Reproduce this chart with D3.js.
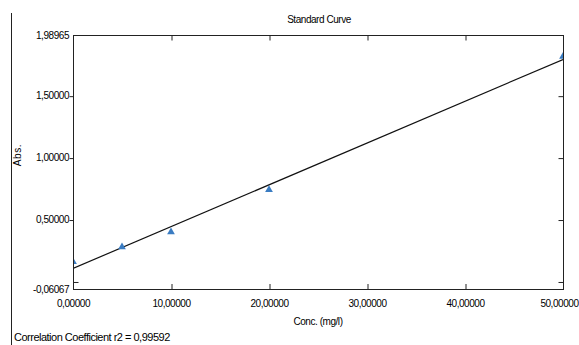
<!DOCTYPE html>
<html>
<head>
<meta charset="utf-8">
<script src="https://cdn.jsdelivr.net/npm/d3@7"></script>
<style>
  body { margin: 0; background: #fff; }
  svg text { font-family: "Liberation Sans", Arial, sans-serif; fill: #000; }
</style>
</head>
<body>
<div id="chart"></div>
<script>
// standard points
const conc = [0, 5, 10, 20, 50];
const absorb = [0.16, 0.278, 0.40, 0.74, 1.816];

const yLabelTicks = [1.98965, 1.5, 1.0, 0.5, -0.06067];
const yMarkTicks = [1.5, 1.0, 0.5];
const xLabelTicks = [0, 10, 20, 30, 40, 50];
const xInnerTicks = [10, 20, 30, 40];
const yInnerTicks = [0, 0.5, 1.0, 1.5];

const W = 579, H = 345;
const margin = {top: 35, right: 16, bottom: 56, left: 73};
const width = W - margin.left - margin.right;
const height = H - margin.top - margin.bottom;

const fmt = (d) => d3.format('.5f')(d).replace('.', ',').replace('−', '-');

const svg = d3.select('#chart').append('svg')
    .attr('width', W)
    .attr('height', H);

svg.append('rect').attr('width', W).attr('height', H).attr('fill', '#fff');

// left border line of the report panel
svg.append('line')
    .attr('x1', 11.5).attr('x2', 11.5)
    .attr('y1', 13).attr('y2', H)
    .attr('stroke', '#222').attr('stroke-width', 1);

const g = svg.append('g')
    .attr('transform', `translate(${margin.left}, ${margin.top})`);

const x = d3.scaleLinear().domain([0, 50]).range([0, width]);
const y = d3.scaleLinear().domain([-0.06067, 1.98965]).range([height, 0]);

// least squares line
const mx = d3.mean(conc), my = d3.mean(absorb);
const sxy = d3.sum(conc, (c, i) => (c - mx) * (absorb[i] - my));
const sxx = d3.sum(conc, (c) => (c - mx) * (c - mx));
const slope = sxy / sxx;
const icpt = my - slope * mx;

g.append('clipPath').attr('id', 'clip')
    .append('rect').attr('width', width).attr('height', height);

const plot = g.append('g').attr('clip-path', 'url(#clip)');

plot.append('path')
    .datum([0, 50])
    .attr('fill', 'none')
    .attr('stroke', '#111')
    .attr('stroke-width', 1.2)
    .attr('d', d3.line().x((d) => x(d)).y((d) => y(icpt + slope * d)));

plot.selectAll('.pt')
    .data(conc)
    .enter().append('path')
    .attr('class', 'pt')
    .attr('transform', (d, i) => `translate(${x(d)},${y(absorb[i])})`)
    .attr('d', d3.symbol().type(d3.symbolTriangle).size(26))
    .attr('fill', '#3a7cc2');

// frame
g.append('rect')
    .attr('x', 0.5).attr('y', 0.5)
    .attr('width', width).attr('height', height)
    .attr('fill', 'none').attr('stroke', '#222');

function clean(sel) {
    sel.select('.domain').remove();
    sel.selectAll('line').attr('stroke', '#222');
    sel.selectAll('text').attr('font-size', 10).attr('letter-spacing', '-0.45px');
}

// x labels
const xLab = g.append('g')
    .attr('transform', `translate(0, ${height})`)
    .call(d3.axisBottom(x).tickValues(xLabelTicks).tickSize(0).tickPadding(11).tickFormat(fmt))
    .call(clean);
// last label sits at the window edge, keep it inside
xLab.selectAll('text').filter((d) => d === 50)
    .attr('text-anchor', 'end')
    .attr('x', W - margin.left - width - 1 + 0);

// x inner ticks, bottom and top
g.append('g')
    .attr('transform', `translate(0.5, ${height})`)
    .call(d3.axisBottom(x).tickValues(xInnerTicks).tickSize(-5).tickFormat(''))
    .call(clean);
g.append('g')
    .attr('transform', 'translate(0.5, 0.5)')
    .call(d3.axisTop(x).tickValues(xInnerTicks).tickSize(-5).tickFormat(''))
    .call(clean);

// y labels
g.append('g')
    .call(d3.axisLeft(y).tickValues(yLabelTicks).tickSize(0).tickPadding(4).tickFormat(fmt))
    .call(clean);

// y outside ticks
g.append('g')
    .attr('transform', 'translate(0.5, 0.5)')
    .call(d3.axisLeft(y).tickValues(yMarkTicks).tickSize(4).tickFormat(''))
    .call(clean);

// y inner ticks at 0 on left, and right side
g.append('g')
    .attr('transform', 'translate(0.5, 0.5)')
    .call(d3.axisLeft(y).tickValues([0]).tickSize(-5).tickFormat(''))
    .call(clean);
g.append('g')
    .attr('transform', `translate(${width + 0.5}, 0.5)`)
    .call(d3.axisRight(y).tickValues(yInnerTicks).tickSize(-5).tickFormat(''))
    .call(clean);

// titles
svg.append('text')
    .attr('x', margin.left + width / 2 + 1)
    .attr('y', 23)
    .attr('text-anchor', 'middle')
    .attr('font-size', 10)
    .attr('letter-spacing', '-0.45px')
    .text('Standard Curve');

svg.append('text')
    .attr('x', margin.left + width / 2)
    .attr('y', 325)
    .attr('text-anchor', 'middle')
    .attr('font-size', 10)
    .attr('letter-spacing', '-0.45px')
    .text('Conc. (mg/l)');

svg.append('text')
    .attr('transform', 'translate(21, 155) rotate(-90)')
    .attr('text-anchor', 'middle')
    .attr('font-size', 10)
    .attr('letter-spacing', '0.6px')
    .text('Abs.');

svg.append('text')
    .attr('x', 14)
    .attr('y', 341)
    .attr('font-size', 11)
    .attr('letter-spacing', '-0.5px')
    .text('Correlation Coefficient r2 = ' + fmt(0.99592));
</script>
</body>
</html>
